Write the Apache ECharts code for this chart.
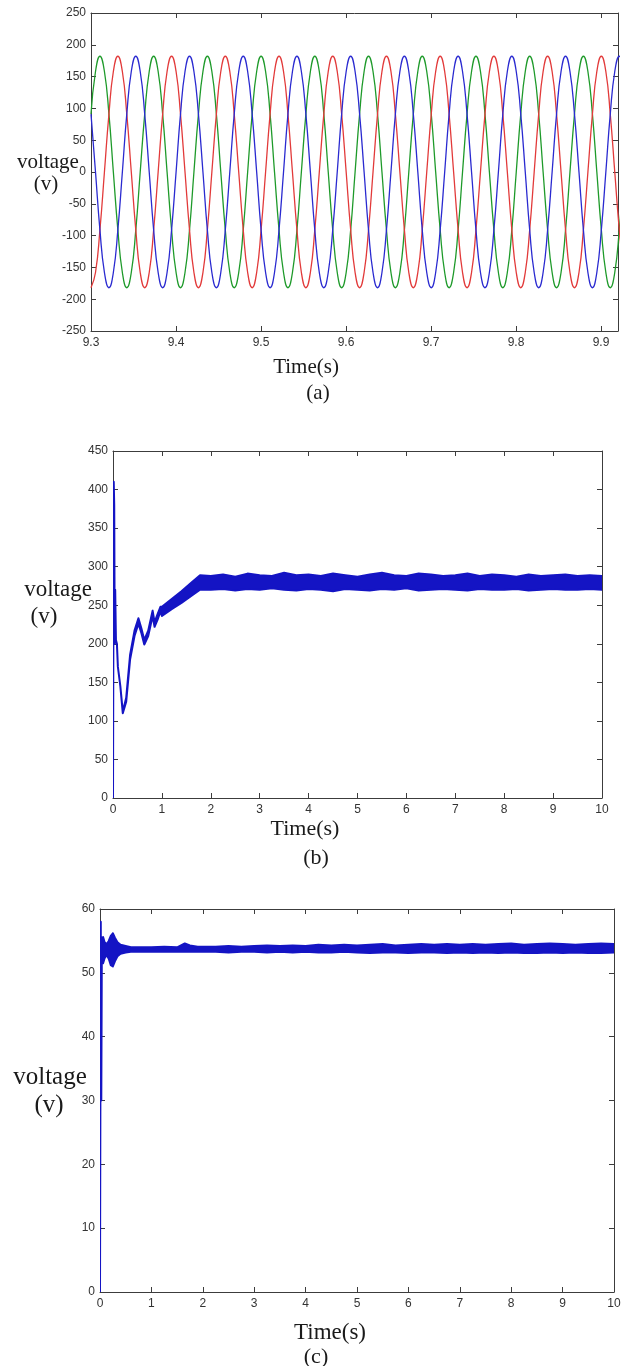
<!DOCTYPE html>
<html lang="en">
<head>
<meta charset="UTF-8">
<title>voltage waveforms</title>
<script src="https://cdn.jsdelivr.net/npm/echarts@6/dist/echarts.min.js"></script>
<style>
    html, body { margin: 0; padding: 0; background: #fff; }
    #main { width: 624px; height: 1366px; }
</style>
</head>
<body>
<div id="main"></div>
<script>
    // (a) three phase voltage, 9.3 s .. 9.92 s
    var timeA = [
        9.3000, 9.3053, 9.3105, 9.3158, 9.3211, 9.3263, 9.3316, 9.3369, 9.3421, 9.3474, 9.3527, 9.3579,
        9.3632, 9.3685, 9.3737, 9.3790, 9.3843, 9.3895, 9.3948, 9.4001, 9.4053, 9.4106, 9.4159, 9.4211,
        9.4264, 9.4317, 9.4369, 9.4422, 9.4475, 9.4527, 9.4580, 9.4633, 9.4685, 9.4738, 9.4791, 9.4843,
        9.4896, 9.4949, 9.5001, 9.5054, 9.5107, 9.5159, 9.5212, 9.5265, 9.5317, 9.5370, 9.5423, 9.5475,
        9.5528, 9.5581, 9.5633, 9.5686, 9.5739, 9.5791, 9.5844, 9.5897, 9.5949, 9.6002, 9.6055, 9.6107,
        9.6160, 9.6213, 9.6265, 9.6318, 9.6371, 9.6423, 9.6476, 9.6529, 9.6581, 9.6634, 9.6687, 9.6739,
        9.6792, 9.6845, 9.6897, 9.6950, 9.7003, 9.7055, 9.7108, 9.7161, 9.7213, 9.7266, 9.7319, 9.7371,
        9.7424, 9.7477, 9.7529, 9.7582, 9.7635, 9.7687, 9.7740, 9.7793, 9.7845, 9.7898, 9.7951, 9.8003,
        9.8056, 9.8109, 9.8161, 9.8214, 9.8267, 9.8319, 9.8372, 9.8425, 9.8477, 9.8530, 9.8583, 9.8635,
        9.8688, 9.8741, 9.8793, 9.8846, 9.8899, 9.8951, 9.9004, 9.9057, 9.9109, 9.9162, 9.9215, 9.9267
    ];
    var phaseGreen = [
        91, 158, 182, 158, 91, 0, -91, -158, -182, -158, -91, 0,
        91, 158, 182, 158, 91, 0, -91, -158, -182, -158, -91, 0,
        91, 158, 182, 158, 91, 0, -91, -158, -182, -158, -91, 0,
        91, 158, 182, 158, 91, 0, -91, -158, -182, -158, -91, 0,
        91, 158, 182, 158, 91, 0, -91, -158, -182, -158, -91, 0,
        91, 158, 182, 158, 91, 0, -91, -158, -182, -158, -91, 0,
        91, 158, 182, 158, 91, 0, -91, -158, -182, -158, -91, 0,
        91, 158, 182, 158, 91, 0, -91, -158, -182, -158, -91, 0,
        91, 158, 182, 158, 91, 0, -91, -158, -182, -158, -91, 0,
        91, 158, 182, 158, 91, 0, -91, -158, -182, -158, -91, 0
    ];
    var phaseRed = [
        -182, -158, -91, 0, 91, 158, 182, 158, 91, 0, -91, -158,
        -182, -158, -91, 0, 91, 158, 182, 158, 91, 0, -91, -158,
        -182, -158, -91, 0, 91, 158, 182, 158, 91, 0, -91, -158,
        -182, -158, -91, 0, 91, 158, 182, 158, 91, 0, -91, -158,
        -182, -158, -91, 0, 91, 158, 182, 158, 91, 0, -91, -158,
        -182, -158, -91, 0, 91, 158, 182, 158, 91, 0, -91, -158,
        -182, -158, -91, 0, 91, 158, 182, 158, 91, 0, -91, -158,
        -182, -158, -91, 0, 91, 158, 182, 158, 91, 0, -91, -158,
        -182, -158, -91, 0, 91, 158, 182, 158, 91, 0, -91, -158,
        -182, -158, -91, 0, 91, 158, 182, 158, 91, 0, -91, -158
    ];
    var phaseBlue = [
        91, 0, -91, -158, -182, -158, -91, 0, 91, 158, 182, 158,
        91, 0, -91, -158, -182, -158, -91, 0, 91, 158, 182, 158,
        91, 0, -91, -158, -182, -158, -91, 0, 91, 158, 182, 158,
        91, 0, -91, -158, -182, -158, -91, 0, 91, 158, 182, 158,
        91, 0, -91, -158, -182, -158, -91, 0, 91, 158, 182, 158,
        91, 0, -91, -158, -182, -158, -91, 0, 91, 158, 182, 158,
        91, 0, -91, -158, -182, -158, -91, 0, 91, 158, 182, 158,
        91, 0, -91, -158, -182, -158, -91, 0, 91, 158, 182, 158,
        91, 0, -91, -158, -182, -158, -91, 0, 91, 158, 182, 158,
        91, 0, -91, -158, -182, -158, -91, 0, 91, 158, 182, 158
    ];

    // (b) DC link voltage, 0 .. 10 s (lower / upper edge of the ripple band)
    var timeB = [0, 0.015, 0.025, 0.035, 0.045, 0.06, 0.08, 0.1, 0.15, 0.2, 0.27, 0.35, 0.44, 0.52, 0.58, 0.64,
        0.72, 0.81, 0.85, 0.91, 0.97, 1.0, 1.2, 1.4, 1.6, 1.78,
        2, 2.25, 2.5, 2.75, 3, 3.25, 3.5, 3.75, 4, 4.25, 4.5, 4.75, 5, 5.25, 5.5, 5.75, 6, 6.25, 6.5, 6.75,
        7, 7.25, 7.5, 7.75, 8, 8.25, 8.5, 8.75, 9, 9.25, 9.5, 9.75, 10];
    var lowB = [0, 410, 380, 200, 270, 205, 200, 170, 145, 110, 125, 180, 210, 226, 214, 199,
        210, 236, 222, 231, 242, 236, 245, 253, 262, 270,
        270, 271, 269, 271, 270, 272, 270, 269, 271, 270, 268, 271, 270, 269, 271, 270, 272, 269, 270, 271,
        270, 269, 271, 270, 270, 271, 269, 270, 271, 270, 270, 271, 270];
    var highB = [0, 410, 380, 200, 270, 205, 200, 170, 145, 112, 130, 186, 217, 233, 220, 205,
        217, 243, 228, 238, 248, 248, 258, 268, 279, 289,
        288, 290, 287, 291, 289, 288, 292, 289, 290, 288, 291, 289, 287, 290, 292, 289, 288, 291, 290, 288,
        289, 291, 288, 290, 289, 287, 290, 288, 289, 290, 288, 289, 288];

    // (c) output voltage, 0 .. 10 s
    var timeC = [0, 0.015, 0.025, 0.035, 0.06, 0.09, 0.13, 0.17, 0.21, 0.25, 0.29, 0.34, 0.4, 0.5, 0.6, 0.8,
        1.0, 1.25, 1.5, 1.65, 1.75, 1.9,
        2.25, 2.5, 2.75, 3, 3.25, 3.5, 3.75, 4, 4.25, 4.5, 4.75, 5, 5.25, 5.5, 5.75, 6, 6.25, 6.5, 6.75,
        7, 7.25, 7.5, 7.75, 8, 8.25, 8.5, 8.75, 9, 9.25, 9.5, 9.75, 10];
    var lowC = [0, 58, 30, 52, 51.5, 52.3, 52.8, 52.2, 51.2, 51, 51.8, 52.6, 53, 53.2, 53.3, 53.3,
        53.3, 53.3, 53.3, 53.3, 53.3, 53.3,
        53.3, 53.2, 53.3, 53.3, 53.2, 53.3, 53.2, 53.3, 53.2, 53.2, 53.3, 53.2, 53.1, 53.2, 53.2, 53.1,
        53.2, 53.2, 53.1, 53.2, 53.1, 53.2, 53.1, 53.2, 53.1, 53.1, 53.2, 53.1, 53.2, 53.1, 53.1, 53.2];
    var highC = [0, 58, 30, 55.5, 55.6, 54.8, 54.5, 55, 55.8, 56.2, 55.5, 54.8, 54.4, 54.2, 54, 54,
        54, 54.1, 54, 54.6, 54.3, 54.1,
        54.1, 54.2, 54.1, 54.2, 54.3, 54.2, 54.3, 54.2, 54.4, 54.3, 54.4, 54.3, 54.4, 54.5, 54.3, 54.4,
        54.5, 54.4, 54.5, 54.4, 54.5, 54.4, 54.5, 54.6, 54.4, 54.5, 54.6, 54.5, 54.4, 54.5, 54.6, 54.5];

    var axisColor = '#3c3c3c';
    var labelFont = 'Liberation Sans';
    var serif = '"Liberation Serif", "Times New Roman", serif';
    var traceBlue = '#1414c4';

    function pairs(xs, ys) {
        var out = [];
        for (var i = 0; i < xs.length; i++) out.push([xs[i], ys[i]]);
        return out;
    }

    function axisPair(kind, grid, min, max, step, showMax) {
        var list = [];
        var sides = kind == 'x' ? ['bottom', 'top'] : ['left', 'right'];
        for (var k = 0; k < 2; k++) {
            list.push({
                type: 'value',
                gridIndex: grid,
                position: sides[k],
                min: min,
                max: max,
                interval: step,
                axisLine: { onZero: false, lineStyle: { color: axisColor, width: 1 } },
                axisTick: { inside: true, length: 5, lineStyle: { color: axisColor } },
                splitLine: { show: false },
                axisLabel: k == 0 ? {
                    color: '#333', fontFamily: labelFont, fontSize: 12,
                    margin: kind == 'x' ? 6 : 5, showMaxLabel: showMax
                } : { show: false }
            });
        }
        return list;
    }

    // ripple band: one filled outline, lower edge forward and upper edge back
    function band(grid, xs, lo, hi, width) {
        var rows = [];
        for (var i = 0; i < xs.length; i++) rows.push([xs[i], lo[i], hi[i]]);
        return {
            type: 'custom', xAxisIndex: grid * 2, yAxisIndex: grid * 2,
            clip: true, silent: true,
            encode: { x: 0, y: [1, 2] },
            data: rows,
            renderItem: function (params, api) {
                if (params.dataIndex != 0) return null;
                var pts = [];
                for (var i = 0; i < xs.length; i++) pts.push(api.coord([xs[i], lo[i]]));
                for (var j = xs.length - 1; j >= 0; j--) pts.push(api.coord([xs[j], hi[j]]));
                return {
                    type: 'polygon',
                    shape: { points: pts },
                    style: { fill: traceBlue, stroke: traceBlue, lineWidth: width, lineJoin: 'round' }
                };
            }
        };
    }

    function phase(name, color, ys) {
        return {
            name: name, type: 'line', xAxisIndex: 0, yAxisIndex: 0, smooth: 0.5,
            symbol: 'none', lineStyle: { color: color, width: 1.3 }, data: pairs(timeA, ys)
        };
    }

    function label(text, x, y, size) {
        return {
            type: 'text', x: x, y: y,
            style: { text: text, font: size + 'px ' + serif, fill: '#1a1a1a', align: 'center', verticalAlign: 'middle',
                textAlign: 'center', textVerticalAlign: 'middle' }
        };
    }

    var chart = echarts.init(document.getElementById('main'));
    chart.setOption({
        animation: false,
        backgroundColor: '#fff',
        grid: [
            { left: 91, top: 13, width: 527, height: 318 },
            { left: 113, top: 451, width: 489, height: 347 },
            { left: 100, top: 909, width: 514, height: 383 }
        ],
        xAxis: [].concat(
            axisPair('x', 0, 9.3, 9.92, 0.1, false),
            axisPair('x', 1, 0, 10, 1, true),
            axisPair('x', 2, 0, 10, 1, true)
        ),
        yAxis: [].concat(
            axisPair('y', 0, -250, 250, 50, true),
            axisPair('y', 1, 0, 450, 50, true),
            axisPair('y', 2, 0, 60, 10, true)
        ),
        series: [
            phase('phase b', '#1e9a2a', phaseGreen),
            phase('phase c', '#e23a3a', phaseRed),
            phase('phase a', '#2a2ad0', phaseBlue),
            band(1, timeB, lowB, highB, 2),
            band(2, timeC, lowC, highC, 2)
        ],
        graphic: [
            label('voltage', 48, 162, 21), label('(v)', 46, 184, 21),
            label('Time(s)', 306, 367, 21), label('(a)', 318, 393, 21),
            label('voltage', 58, 590, 23), label('(v)', 44, 617, 23),
            label('Time(s)', 305, 829, 22), label('(b)', 316, 858, 22),
            label('voltage', 50, 1077, 25), label('(v)', 49, 1105, 25),
            label('Time(s)', 330, 1333, 23), label('(c)', 316, 1357, 22)
        ]
    });
</script>
</body>
</html>
